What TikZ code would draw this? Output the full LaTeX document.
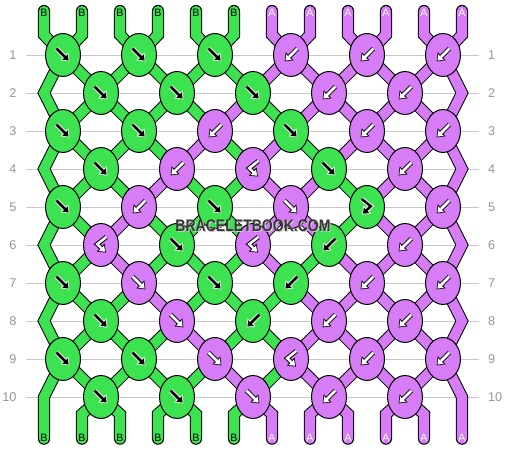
\documentclass[tikz,border=0pt]{standalone}
\usepackage{fontspec}
\setmainfont{Liberation Sans}
\usetikzlibrary{shapes.geometric,arrows.meta}
\definecolor{G}{RGB}{61,226,80}
\definecolor{P}{RGB}{214,124,247}
\definecolor{rowgray}{RGB}{200,200,200}
\definecolor{numgray}{RGB}{150,150,150}
\tikzset{
	knot/.style={ellipse,draw=black,line width=0.75pt,minimum width=0.92cm,minimum height=1.13cm,inner sep=0pt},
	af/.style={insert path={(-0.17,0.17)--(0.17,-0.17)}},
	ab/.style={insert path={(0.17,0.17)--(-0.17,-0.17)}},
	afb/.style={insert path={(-0.14,0.21)--(0.1,0.02)--(-0.13,-0.2)}},
	abf/.style={insert path={(0.14,0.21)--(-0.1,0.02)--(0.13,-0.2)}},
	arrout/.style={-{Triangle[length=5.4pt,width=8pt]},line width=3.4pt,line join=miter,line cap=butt},
	arrin/.style={-{Triangle[length=3.8pt,width=5.6pt]},line width=1.9pt,line join=miter,line cap=butt,shorten >=0.9pt},
	rownum/.style={numgray,font=\fontsize{9.5}{10}\selectfont},
	endlabel/.style={font=\fontsize{8}{8}\selectfont,inner sep=0pt}
}
\begin{document}
\begin{tikzpicture}[line join=round, line cap=round]
			\useasboundingbox (-1.158,1.447) rectangle (12.158,-10.447);
			\def\colrows{0/{G,G,G,G,G,G,P,P,P,P,P,P},1/{G,G,G,G,G,G,P,P,P,P,P,P},2/{G,G,G,G,G,P,G,P,P,P,P,P},3/{G,G,G,G,P,G,P,G,P,P,P,P},4/{G,G,G,P,G,G,P,P,G,P,P,P},5/{G,G,P,G,G,G,P,P,G,P,P,P},6/{G,G,P,G,G,G,P,G,P,P,P,P},7/{G,G,G,P,G,G,G,P,P,P,P,P},8/{G,G,G,G,P,G,G,P,P,P,P,P},9/{G,G,G,G,G,P,G,P,P,P,P,P},10/{G,G,G,G,G,G,P,P,P,P,P,P}}
			\def\knotrows{1/{f/G,f/G,f/G,b/P,b/P,b/P},2/{f/G,f/G,f/G,b/P,b/P},3/{f/G,f/G,b/P,f/G,b/P,b/P},4/{f/G,b/P,bf/P,f/G,b/P},5/{f/G,b/P,f/G,f/P,fb/G,b/P},6/{bf/P,f/G,bf/P,b/G,b/P},7/{f/G,f/P,f/G,b/G,b/P,b/P},8/{f/G,f/P,b/G,b/P,b/P},9/{f/G,f/G,f/P,bf/P,b/P,b/P},10/{f/G,f/G,f/P,b/P,b/P}}
			\foreach \r in {1,...,10}
			{\draw[rowgray,line cap=butt] (-0.47,1-\r)--(11.45,1-\r);
				\node[rownum,anchor=east] (ln\r) at (-0.6,1-\r) {\r};
				\node[rownum,anchor=west] (rn\r) at (11.56,1-\r) {\r};}
			\foreach \p in {0,...,11}
			{\coordinate (top-\p) at (\p,1.16);
				\coordinate (s0-\p) at (\p,0.53);
				\coordinate (bot-\p) at (\p,-9.45);
				\coordinate (end-\p) at (\p,-10.1);
				\foreach \s in {1,...,10}
				{\pgfmathsetmacro\px{isodd(\s) ? (isodd(\p) ? \p-0.5 : \p+0.5) : ((\p==0 || \p==11) ? \p : (isodd(\p) ? \p+0.5 : \p-0.5))}
					\coordinate (s\s-\p) at (\px,1-\s);}}
			\foreach \w/\o in {9pt/1,7.5pt/0}
			{\foreach \s/\cols in \colrows
				{\pgfmathtruncatemacro\sa{\s+1}
					\pgfmathtruncatemacro\sb{\s+2}
					\foreach \clr [count=\p from 0] in \cols
					{\ifnum\o=1 \def\strcol{black}\else\def\strcol{\clr}\fi
						\pgfmathtruncatemacro\edge{(\p==0 || \p==11) ? 1 : 0}
						\ifnum\s=0
						\draw[line width=\w,draw=\strcol,line join=miter] (top-\p)--(s0-\p)--(s1-\p);
						\else\ifnum\edge=0
						\ifnum\s=10
						\draw[line width=\w,draw=\strcol,line join=miter] (s10-\p)--(bot-\p)--(end-\p);
						\else
						\draw[line width=\w,draw=\strcol] (s\s-\p)--(s\sa-\p);
						\fi
						\else\ifodd\s
						\ifnum\s=9
						\draw[line width=\w,draw=\strcol,line join=miter] (s9-\p)--(s10-\p)--(end-\p);
						\else
						\draw[line width=\w,draw=\strcol,line join=miter] (s\s-\p)--(s\sa-\p)--(s\sb-\p);
						\fi
						\fi\fi\fi}}}
			\foreach \r/\row in \knotrows
			{\foreach \t/\kc [count=\n from 0] in \row
				{\pgfmathtruncatemacro\p{isodd(\r) ? 2*\n : 2*\n+1}
					\if G\kc \def\ac{black}\def\oc{white}\else\def\ac{white}\def\oc{black}\fi
					\node[knot,fill=\kc] (k\r-\n) at (s\r-\p) {};
					\draw[arrout,shift={(k\r-\n.center)},draw=\oc,a\t];
					\draw[arrin,shift={(k\r-\n.center)},draw=\ac,a\t];}}
			\foreach \p in {0,...,5}
			{\node[endlabel] (tl\p) at (\p,1.12) {B};
				\node[endlabel] (bl\p) at (\p,-10.08) {B};}
			\foreach \p in {6,...,11}
			{\node[endlabel,text=white] (tl\p) at (\p,1.12) {A};
				\node[endlabel,text=white] (bl\p) at (\p,-10.08) {A};}
			\node[font=\bfseries\fontsize{12.5}{12.5}\selectfont,text=black!20,xscale=0.84,transform shape] (wms) at (5.53,-4.53) {BRACELETBOOK.COM};
			\node[font=\bfseries\fontsize{12.5}{12.5}\selectfont,text=black!78,xscale=0.84,transform shape] (wm) at (5.5,-4.5) {BRACELETBOOK.COM};
	\end{tikzpicture}
\end{document}
